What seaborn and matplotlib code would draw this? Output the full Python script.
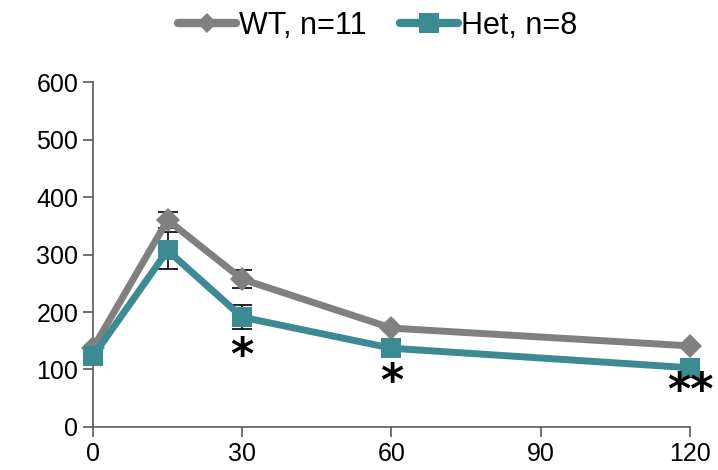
import pandas as pd
import numpy as np
import seaborn as sns
import matplotlib.pyplot as plt

# data
time_min = [0, 15, 30, 60, 120]
wt_vals = [137, 360, 257, 172, 141]
wt_err = [0, 14, 16, 0, 0]
het_vals = [123, 307, 191, 137, 103]
het_err = [0, 33, 21, 0, 0]
groups = ['WT, n=11', 'Het, n=8']
star_x = [30, 60, 120]
star_y = [122, 78, 62]
star_txt = ['*', '*', '**']

sns.set_theme(style='white')
plt.rcParams['font.family'] = ['Liberation Sans', 'DejaVu Sans']
plt.rcParams['text.color'] = 'black'

df = pd.DataFrame({
    'time': time_min * 2,
    'value': wt_vals + het_vals,
    'group': [groups[0]] * 5 + [groups[1]] * 5,
})

colors = {groups[0]: '#808080', groups[1]: '#3C8A92'}

fig = plt.figure(figsize=(7.18, 4.70), dpi=100)
ax = fig.add_axes([0.1295, 0.0915, 0.8315, 0.734])

sns.lineplot(data=df, x='time', y='value', hue='group', style='group',
             palette=colors, markers={groups[0]: 'D', groups[1]: 's'},
             dashes=False, linewidth=5, ax=ax, legend=True, zorder=3)

for ln in ax.lines:
    ln.set_clip_on(False)
    if ln.get_marker() == 'D':
        ln.set_markersize(12)
    elif ln.get_marker() == 's':
        ln.set_markersize(15)
    ln.set_markeredgewidth(0)

# error bars (stems sit under the markers, caps stick out)
for vals, err in [(wt_vals, wt_err), (het_vals, het_err)]:
    ax.errorbar(time_min, vals, yerr=err, fmt='none', ecolor='black',
                elinewidth=1.2, capsize=7, capthick=1.2, zorder=2)

for x, y, t in zip(star_x, star_y, star_txt):
    ax.text(x, y, t, ha='center', va='center', fontsize=32, fontweight='bold',
            color='black', family='DejaVu Sans')

ax.set_xlim(0, 120)
ax.set_ylim(0, 600)
ax.set_xticks([0, 30, 60, 90, 120])
ax.set_yticks(range(0, 601, 100))
ax.set_xlabel('')
ax.set_ylabel('')
for s in ['top', 'right']:
    ax.spines[s].set_visible(False)
for s in ['left', 'bottom']:
    ax.spines[s].set_color('#595959')
    ax.spines[s].set_linewidth(1.2)
ax.tick_params(axis='both', direction='out', length=7, width=1.2, color='#595959',
               labelsize=18, labelcolor='black', left=True, bottom=True)

handles, labels = ax.get_legend_handles_labels()
for h in handles:
    h.set_markeredgewidth(0)
    h.set_linewidth(6)
    if h.get_marker() == 'D':
        h.set_markersize(10)
    else:
        h.set_markersize(15)
leg = ax.legend(handles, labels, loc='center', bbox_to_anchor=(0.477, 1.162),
                ncol=2, frameon=False, fontsize=22, handlelength=1.9,
                handletextpad=0.1, columnspacing=1.1, labelcolor='black')

fig.savefig('out.png', dpi=100)
